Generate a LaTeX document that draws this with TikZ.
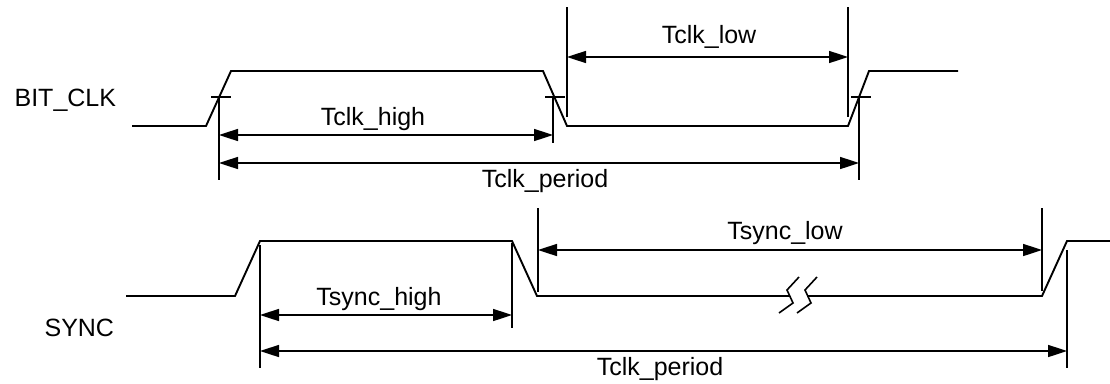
\documentclass[tikz,border=0pt]{standalone}
\usepackage{fontspec}
\setmainfont{Liberation Sans}
\usetikzlibrary{arrows.meta}

\begin{document}
\begin{tikzpicture}[x=1pt, y=-1pt, % one unit per pixel, y grows downwards
  line width=1.9pt,
  >={Triangle[length=19pt, width=12pt]}, % filled arrow heads
  ext/.style={line width=1.6pt}, % extension lines of the dimensions
  dim/.style={<->, line width=1.6pt}, % dimension arrows
  lbl/.style={anchor=base, inner sep=0pt, font=\fontsize{25}{30}\selectfont}, % timing labels
]
    \useasboundingbox (0,0) rectangle (1110,383);

    % BIT_CLK waveform
    \coordinate (c0) at (132,126);
    \coordinate (c1) at (206,126);
    \coordinate (c2) at (231,71);
    \coordinate (c3) at (543,71);
    \coordinate (c4) at (567,126);
    \coordinate (c5) at (848,126);
    \coordinate (c6) at (869,71);
    \coordinate (c7) at (958,71);
    \draw (c0) -- (c1) -- (c2) -- (c3) -- (c4) -- (c5) -- (c6) -- (c7);

    % crossing points of the clock edges
    \coordinate (x1) at (219,97);
    \coordinate (x2) at (553,97);
    \coordinate (x3) at (859,97);
    \foreach \p in {x1,x2,x3}
      \draw[ext] (\p) ++(-8,0) -- ++(20,0);

    % extension lines
    \coordinate (e1) at (219,180);
    \coordinate (e2) at (553,143);
    \coordinate (e3t) at (567,7);
    \coordinate (e3b) at (567,117);
    \coordinate (e4t) at (848,7);
    \coordinate (e4b) at (848,117);
    \coordinate (e5) at (859,180);
    \draw[ext] (x1) -- (e1)
               (x2) -- (e2)
               (e3t) -- (e3b)
               (e4t) -- (e4b)
               (x3) -- (e5);

    % dimensions
    \draw[dim] (567,57) -- (848,57);
    \draw[dim] (219,135) -- (553,135);
    \draw[dim] (219,163) -- (859,163);

    \node[lbl] (1) at (709,43) {Tclk\_low};
    \node[lbl] (2) at (373,125) {Tclk\_high};
    \node[lbl] (3) at (545,187) {Tclk\_period};
    \node[lbl, anchor=base east] (4) at (117,106) {BIT\_CLK};

    % SYNC waveform
    \coordinate (s0) at (126,296);
    \coordinate (s1) at (235,296);
    \coordinate (s2) at (260,241);
    \coordinate (s3) at (512,241);
    \coordinate (s4) at (537,296);
    \coordinate (s5) at (1042,296);
    \coordinate (s6) at (1067,241);
    \coordinate (s7) at (1112,241);
    \draw (s0) -- (s1) -- (s2) -- (s3) -- (s4) -- (s5) -- (s6) -- (s7);

    % break mark on the low level
    \fill[white] (779,313) -- (793,303) -- (787,290) -- (799,277) -- (817,277)
                 -- (805,290) -- (811,303) -- (797,313) -- cycle;
    \draw[ext] (779,313) -- (793,303) -- (787,290) -- (799,277);
    \draw[ext] (797,313) -- (811,303) -- (805,290) -- (817,277);

    % extension lines
    \coordinate (f1t) at (260,245);
    \coordinate (f1b) at (260,368);
    \coordinate (f2t) at (512,243);
    \coordinate (f2b) at (512,328);
    \coordinate (f3t) at (538,208);
    \coordinate (f3b) at (538,292);
    \coordinate (f4t) at (1042,208);
    \coordinate (f4b) at (1042,291);
    \coordinate (f5t) at (1067,250);
    \coordinate (f5b) at (1067,368);
    \draw[ext] (f1t) -- (f1b)
               (f2t) -- (f2b)
               (f3t) -- (f3b)
               (f4t) -- (f4b)
               (f5t) -- (f5b);

    % dimensions
    \draw[dim] (538,250) -- (1042,250);
    \draw[dim] (260,315) -- (512,315);
    \draw[dim] (260,351) -- (1067,351);

    \node[lbl] (5) at (785,239) {Tsync\_low};
    \node[lbl] (6) at (379,305) {Tsync\_high};
    \node[lbl] (7) at (660,375) {Tclk\_period};
    \node[lbl, anchor=base east] (8) at (115,336) {SYNC};
\end{tikzpicture}
\end{document}
